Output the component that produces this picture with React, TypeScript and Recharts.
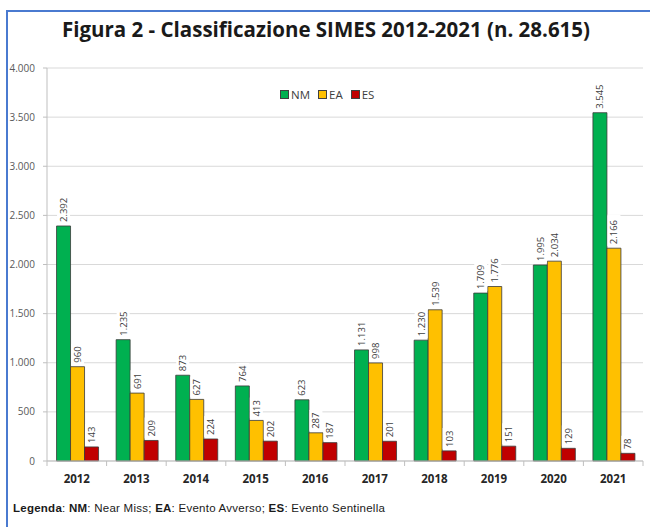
import React from 'react';
import { BarChart, Bar, XAxis, YAxis, CartesianGrid, LabelList } from 'recharts';

const years = ['2012', '2013', '2014', '2015', '2016', '2017', '2018', '2019', '2020', '2021'];
const nmValues = [2392, 1235, 873, 764, 623, 1131, 1230, 1709, 1995, 3545];
const eaValues = [960, 691, 627, 413, 287, 998, 1539, 1776, 2034, 2166];
const esValues = [143, 209, 224, 202, 187, 201, 103, 151, 129, 78];
const yTicks = [0, 500, 1000, 1500, 2000, 2500, 3000, 3500, 4000];
const seriesKeys = ['NM', 'EA', 'ES'];
const seriesColors = ['#00B050', '#FFC000', '#C00000'];

const data = years.map((y, i) => ({ year: y, NM: nmValues[i], EA: eaValues[i], ES: esValues[i] }));

const fmt = (v: number) => String(v).replace(/\B(?=(\d{3})+(?!\d))/g, '.');

const FONT = '"Open Sans", "DejaVu Sans", sans-serif';

const ValueLabel = (props: any) => {
  const { x, y, width, value } = props;
  if (value == null) return null;
  const cx = x + width / 2;
  const s = fmt(value);
  const len = s.length * 5.3;
  const base = y - 4;
  return (
    <g>
      <rect x={cx - 6.5} y={base - len - 3} width={13} height={len + 5} fill="#ffffff" />
      <text
        x={cx}
        y={base}
        transform={`rotate(-90 ${cx} ${base})`}
        textAnchor="start"
        dominantBaseline="central"
        fontSize={9.5}
        fontFamily={FONT}
        fill="#404040"
      >
        {s}
      </text>
    </g>
  );
};

const XTick = (props: any) => {
  const { x, y, payload, index, visibleTicksCount, width } = props;
  const band = width / visibleTicksCount;
  const left = x - band / 2;
  const right = x + band / 2;
  return (
    <g>
      <line x1={left} x2={left} y1={y} y2={y + 5} stroke="#bfbfbf" />
      {index === visibleTicksCount - 1 && <line x1={right} x2={right} y1={y} y2={y + 5} stroke="#bfbfbf" />}
      <text x={x} y={y + 22} textAnchor="middle" fontSize={11.5} fontWeight="bold" fontFamily={FONT} fill="#262626">
        {payload.value}
      </text>
    </g>
  );
};

const LegendBox = () => (
  <div
    style={{
      position: 'absolute',
      left: 280,
      top: 87,
      display: 'flex',
      alignItems: 'center',
      fontFamily: FONT,
      fontSize: 11.5,
      color: '#404040',
    }}
  >
    {seriesKeys.map((k, i) => (
      <div key={k} style={{ display: 'flex', alignItems: 'center', marginRight: 8 }}>
        <span
          style={{
            display: 'inline-block',
            width: 7,
            height: 7,
            background: seriesColors[i],
            border: '1px solid #404040',
            marginRight: 2,
          }}
        />
        <span>{k}</span>
      </div>
    ))}
  </div>
);

export default function App() {
  return (
    <div style={{ position: 'absolute', left: 0, top: 0, width: 650, height: 527, background: '#fff', overflow: 'hidden' }}>
      <div
        style={{
          position: 'absolute',
          left: 6,
          top: 10,
          width: 644,
          height: 517,
          borderLeft: '2px solid #4a7ad0',
          borderTop: '2px solid #4a7ad0',
          boxSizing: 'border-box',
        }}
      />
      <div
        style={{
          position: 'absolute',
          left: 0,
          top: 15,
          width: 652,
          textAlign: 'center',
          fontFamily: FONT,
          fontWeight: 'bold',
          fontSize: 20.5,
          color: '#1a1a1a',
        }}
      >
        Figura 2 - Classificazione SIMES 2012-2021 (n. 28.615)
      </div>
      <div style={{ position: 'absolute', left: 0, top: 0 }}>
        <BarChart
          width={650}
          height={527}
          data={data}
          margin={{ top: 68, right: 7, bottom: 0, left: 0 }}
          barCategoryGap="16%"
          barGap={0}
        >
          <CartesianGrid vertical={false} stroke="#d9d9d9" />
          <XAxis
            dataKey="year"
            tickLine={false}
            tickSize={0}
            tickMargin={0}
            axisLine={{ stroke: '#bfbfbf' }}
            tick={<XTick />}
            interval={0}
            height={66}
          />
          <YAxis
            domain={[0, 4000]}
            ticks={yTicks}
            width={47}
            tickSize={4}
            tickMargin={8}
            tickLine={{ stroke: '#bfbfbf' }}
            axisLine={{ stroke: '#bfbfbf' }}
            tickFormatter={fmt}
            tick={{ fontSize: 10, fill: '#595959', fontFamily: FONT }}
            interval={0}
          />
          {seriesKeys.map((k, i) => (
            <Bar key={k} dataKey={k} fill={seriesColors[i]} stroke="#3a3a3a" strokeWidth={0.8} isAnimationActive={false}>
              <LabelList dataKey={k} content={<ValueLabel />} />
            </Bar>
          ))}
        </BarChart>
      </div>
      <LegendBox />
      <div
        style={{
          position: 'absolute',
          left: 13,
          top: 502,
          fontFamily: '"Liberation Sans", Arial, sans-serif',
          fontSize: 11.5,
          letterSpacing: 0.25,
          color: '#1a1a1a',
          whiteSpace: 'nowrap',
        }}
      >
        <b>Legenda</b>: <b>NM</b>: Near Miss; <b>EA</b>: Evento Avverso; <b>ES</b>: Evento Sentinella
      </div>
    </div>
  );
}
